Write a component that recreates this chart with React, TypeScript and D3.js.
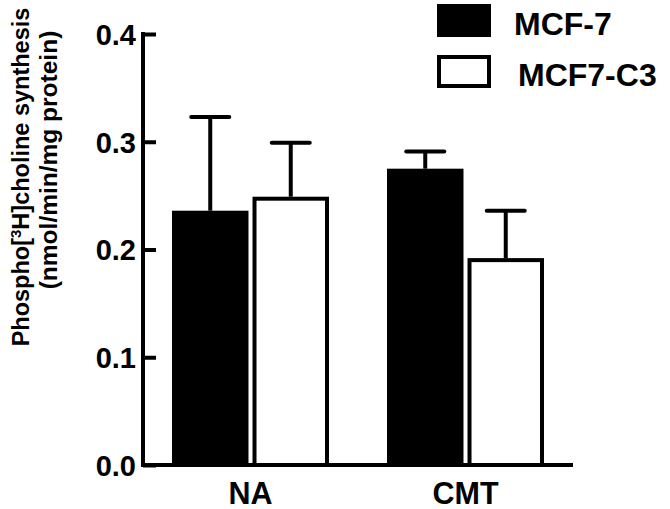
import { useEffect, useRef } from "react";
import * as d3 from "d3";

// data
const categories = ["NA", "CMT"];
const seriesNames = ["MCF-7", "MCF7-C3"];
const mcf7Means = [0.236, 0.275];
const mcf7Errors = [0.087, 0.016];
const c3Means = [0.249, 0.192];
const c3Errors = [0.05, 0.044];
const yTicks = [0.0, 0.1, 0.2, 0.3, 0.4];

const seriesColors = ["#000000", "#ffffff"];
const font = "'Liberation Sans', Arial, Helvetica, sans-serif";

export default function App() {
    const ref = useRef<SVGSVGElement>(null);

    useEffect(() => {
        const svg = d3.select(ref.current);
        svg.selectAll("*").remove();

        const lw = 4;

        // scales
        const x0 = d3.scaleBand().domain(categories).range([143, 573]);
        const x1 = d3.scaleBand().domain(seriesNames).range([29, 186]).paddingInner(0.05);
        const y = d3.scaleLinear().domain([0, 0.4]).range([465, 34]);

        const rows = categories.map((c, i) => ({
            cat: c,
            vals: [
                { s: seriesNames[0], v: mcf7Means[i], e: mcf7Errors[i], col: seriesColors[0] },
                { s: seriesNames[1], v: c3Means[i], e: c3Errors[i], col: seriesColors[1] },
            ],
        }));

        // error bars (drawn first so the bar outline covers the bottom end)
        const groups = svg.selectAll("g.grp")
            .data(rows)
            .enter().append("g")
            .attr("class", "grp")
            .attr("transform", (d) => `translate(${x0(d.cat)},0)`);

        groups.selectAll("g.err")
            .data((d) => d.vals)
            .enter().append("g")
            .attr("class", "err")
            .each(function (d) {
                const g = d3.select(this);
                const cx = (x1(d.s) as number) + x1.bandwidth() / 2;
                g.append("line")
                    .attr("x1", cx).attr("x2", cx)
                    .attr("y1", y(d.v)).attr("y2", y(d.v + d.e))
                    .attr("stroke", "#000").attr("stroke-width", lw);
                g.append("line")
                    .attr("x1", cx - 19).attr("x2", cx + 19)
                    .attr("y1", y(d.v + d.e)).attr("y2", y(d.v + d.e))
                    .attr("stroke", "#000").attr("stroke-width", lw)
                    .attr("stroke-linecap", "round");
            });

        // bars
        groups.selectAll("rect")
            .data((d) => d.vals)
            .enter().append("rect")
            .attr("x", (d) => (x1(d.s) as number) + lw / 2)
            .attr("y", (d) => y(d.v) + lw / 2)
            .attr("width", x1.bandwidth() - lw)
            .attr("height", (d) => y(0) - y(d.v) - lw / 2)
            .attr("fill", (d) => d.col)
            .attr("stroke", "#000")
            .attr("stroke-width", lw);

        // y axis
        const yAxis = d3.axisLeft(y)
            .tickValues(yTicks)
            .tickFormat(d3.format(".1f"))
            .tickSizeInner(-13)
            .tickSizeOuter(0)
            .tickPadding(7);
        const ya = svg.append("g")
            .attr("transform", "translate(143,0)")
            .call(yAxis);
        ya.select(".domain").attr("stroke-width", lw).attr("d", `M0,${y(0.4) - 2}V${y(0) + 2}`);
        ya.selectAll(".tick line").attr("stroke-width", lw);
        ya.selectAll(".tick text")
            .attr("font-family", font)
            .attr("font-weight", "bold")
            .attr("font-size", 29)
            .attr("fill", "#000")
            .attr("dy", "0.36em");

        // x axis baseline
        svg.append("line")
            .attr("x1", 141).attr("x2", 573)
            .attr("y1", y(0)).attr("y2", y(0))
            .attr("stroke", "#000").attr("stroke-width", lw);

        svg.selectAll("text.cat")
            .data(categories)
            .enter().append("text")
            .attr("class", "cat")
            .attr("x", (d) => (x0(d) as number) + x0.bandwidth() / 2)
            .attr("y", 504)
            .attr("text-anchor", "middle")
            .attr("font-family", font)
            .attr("font-weight", "bold")
            .attr("font-size", 30.5)
            .text((d) => d);

        // y title
        const t1 = svg.append("text")
            .attr("transform", "translate(29,177) rotate(-90)")
            .attr("text-anchor", "middle")
            .attr("font-family", font)
            .attr("font-weight", "bold")
            .attr("font-size", 23.5);
        t1.append("tspan").text("Phospho[");
        t1.append("tspan").attr("font-size", 15).attr("dy", -8).text("3");
        t1.append("tspan").attr("dy", 8).text("H]choline synthesis");

        svg.append("text")
            .attr("transform", "translate(57,160) rotate(-90)")
            .attr("text-anchor", "middle")
            .attr("font-family", font)
            .attr("font-weight", "bold")
            .attr("font-size", 24.5)
            .text("(nmol/min/mg protein)");

        // legend
        const legend = svg.append("g");
        const leg = legend.selectAll("g")
            .data(seriesNames)
            .enter().append("g")
            .attr("transform", (d, i) => `translate(0,${i * 51})`);
        leg.append("rect")
            .attr("x", 439).attr("y", 6)
            .attr("width", 50).attr("height", 29)
            .attr("fill", (d, i) => seriesColors[i])
            .attr("stroke", "#000").attr("stroke-width", lw);
        leg.append("text")
            .attr("x", (d, i) => 514 + i * 4)
            .attr("y", 35)
            .attr("font-family", font)
            .attr("font-weight", "bold")
            .attr("font-size", 32)
            .text((d) => d);
    }, []);

    return (
        <svg ref={ref} width={670} height={509}
            style={{ position: "absolute", left: 0, top: 0, background: "#fff" }}></svg>
    );
}
